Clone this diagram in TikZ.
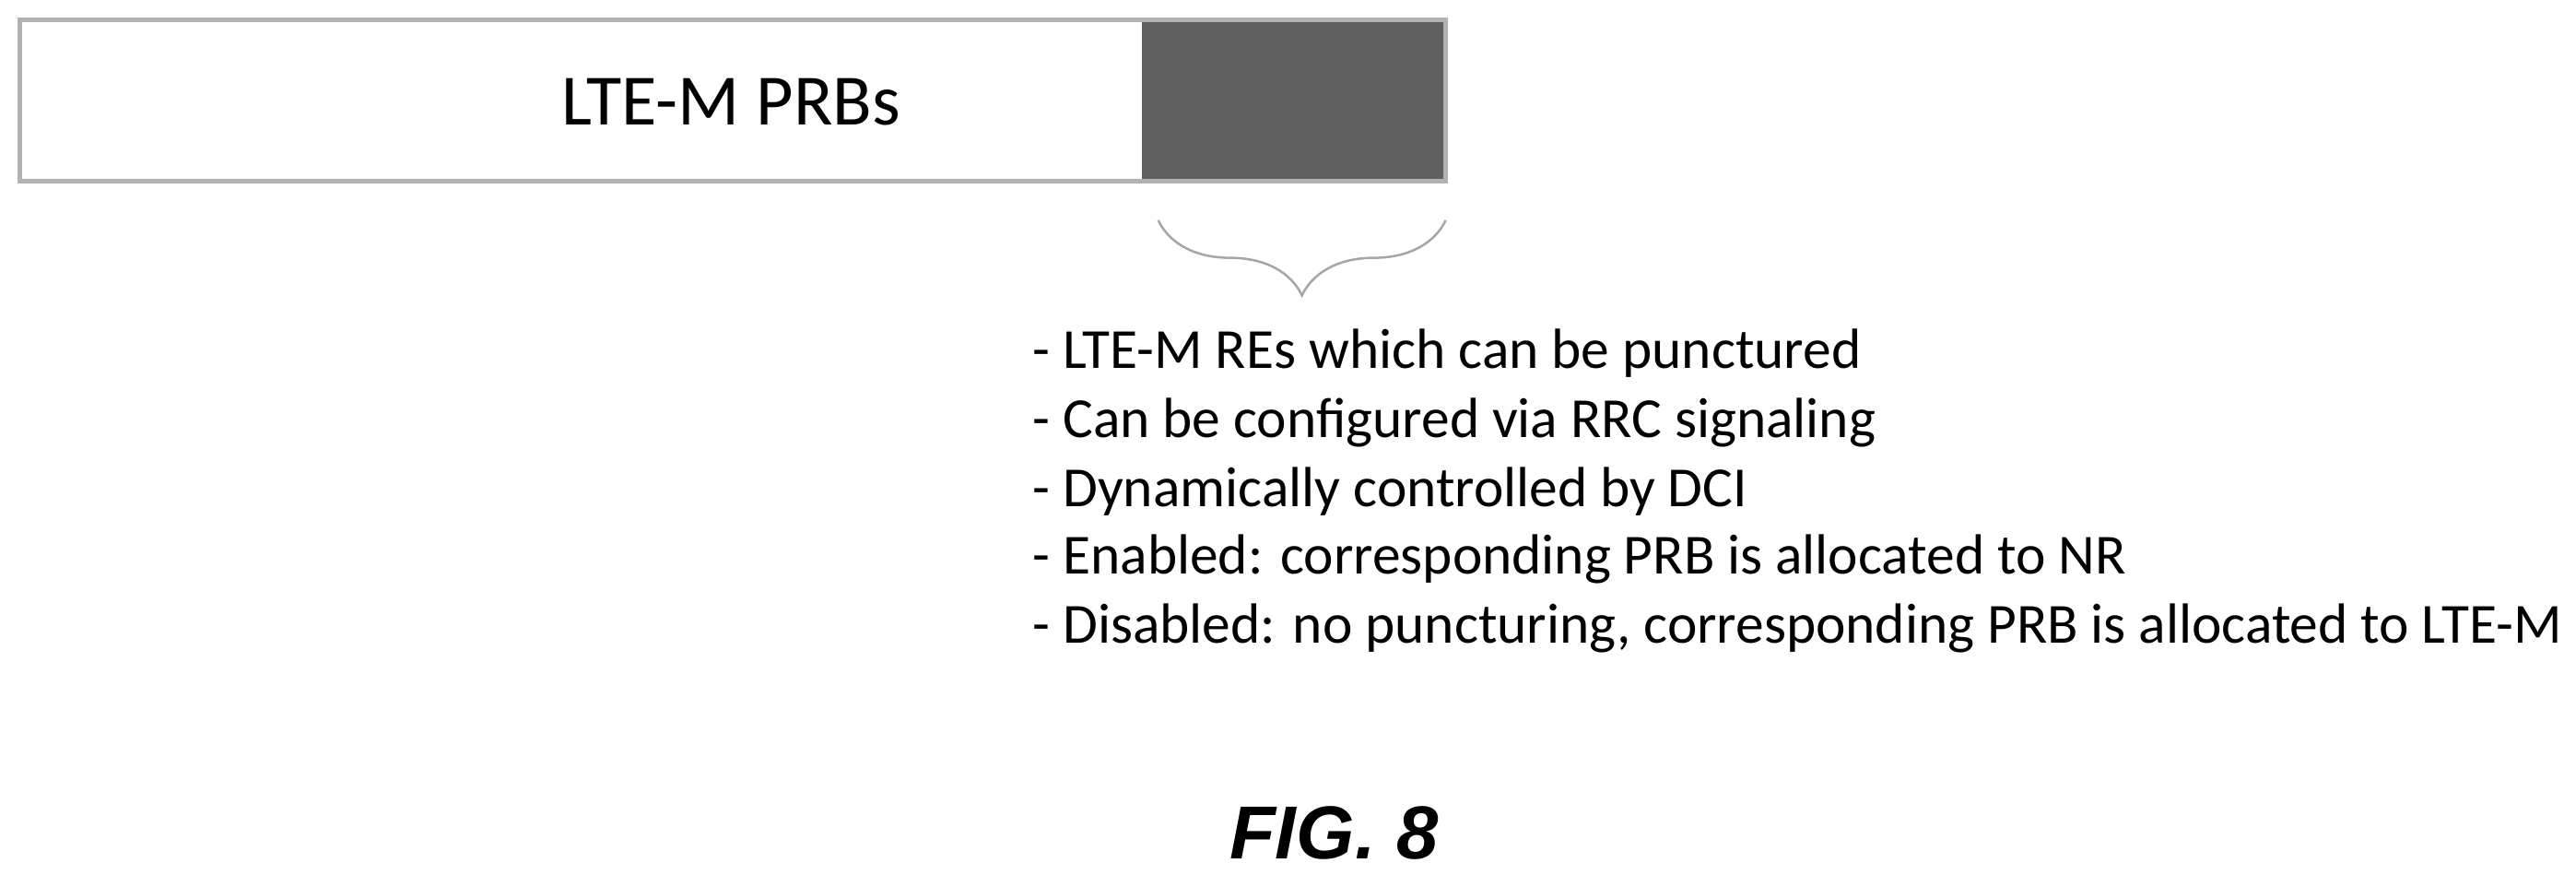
\documentclass[tikz,border=0pt]{standalone}
\usepackage{fontspec}
\setmainfont{Carlito}
\newfontfamily\figfont{Liberation Sans}
\usetikzlibrary{decorations.pathreplacing}
\begin{document}
\begin{tikzpicture}[x=0.01cm,y=-0.01cm,
  bullet/.style={anchor=west,inner sep=0pt,font=\fontsize{9.8}{11}\selectfont}]
\useasboundingbox (0,0) rectangle (1568,532);
\fill[gray!75!black] (695,12) rectangle (880,110);
\draw[gray!60,line width=0.8pt] (12,12) rectangle (880,110);
\node[font=\fontsize{12.5}{14}\selectfont] (lbl) at (445,62) {LTE-M PRBs};
\coordinate (bl) at (880,134);
\coordinate (br) at (705,134);
\draw[gray!70,decorate,decoration={brace,amplitude=13pt}] (bl) -- (br);
\node[bullet] (t1) at (628,215) {- LTE-M REs which can be punctured};
\node[bullet] (t2) at (628,257) {- Can be configured via RRC signaling};
\node[bullet] (t3) at (628,299) {- Dynamically controlled by DCI};
\node[bullet] (t4) at (628,340) {- Enabled: corresponding PRB is allocated to NR};
\node[bullet] (t5) at (628,382) {- Disabled: no puncturing, corresponding PRB is allocated to LTE-M};
\node[font=\figfont\bfseries\itshape\fontsize{13}{15}\selectfont] (fig) at (812,507) {FIG. 8};
\end{tikzpicture}
\end{document}
